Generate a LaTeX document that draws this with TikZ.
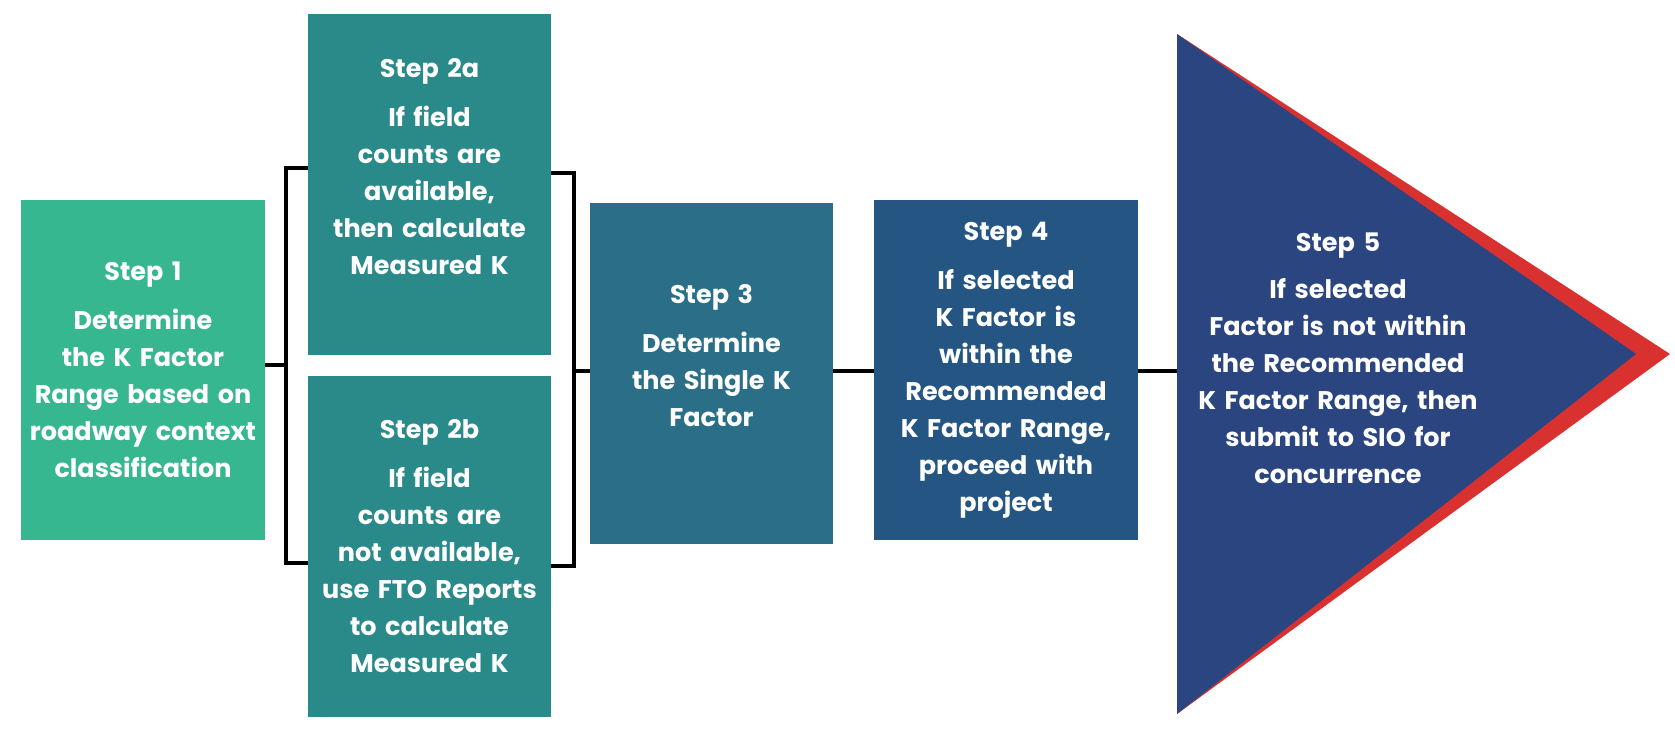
\documentclass[tikz,border=0pt]{standalone}
\usepackage{fontspec}
\setmainfont{Poppins}
\usetikzlibrary{calc}
\definecolor{stepone}{HTML}{37B78F}
\definecolor{steptwo}{HTML}{2A8A8A}
\definecolor{stepthree}{HTML}{2A6F87}
\definecolor{stepfour}{HTML}{245583}
\definecolor{stepfive}{HTML}{2B4580}
\definecolor{stepred}{HTML}{D93030}
\newcommand\stepfont{\fontsize{25.5}{37}\selectfont\bfseries}
\tikzstyle{stepbox}=[rectangle, inner sep=0pt, text=white, align=center, font=\stepfont]
\tikzstyle{line}=[draw, line width=3.5pt]

\begin{document}
\begin{tikzpicture}[x=1pt, y=-1pt]
		\useasboundingbox (0,0) rectangle (1675,731);
		
		% Step boxes
		\node[stepbox, fill=stepone, minimum width=244pt, minimum height=340pt, text width=240pt] (s1) at (143,370) {Step 1\\[12pt]Determine\\the K Factor\\Range based on\\roadway context\\classification};
		\node[stepbox, fill=steptwo, minimum width=243pt, minimum height=341pt, text width=239pt] (s2a) at (429.5,184.5) {Step 2a\\[12pt]If field\\counts are\\available,\\then calculate\\Measured K\\[0pt]\mbox{}};
		\node[stepbox, fill=steptwo, minimum width=243pt, minimum height=341pt, text width=239pt] (s2b) at (429.5,546.5) {Step 2b\\[12pt]If field\\counts are\\not available,\\use FTO Reports\\to calculate\\Measured K};
		\node[stepbox, fill=stepthree, minimum width=243pt, minimum height=341pt, text width=239pt] (s3) at (711.5,373.5) {Step 3\\[12pt]Determine\\the Single K\\Factor\\[0pt]\mbox{}};
		\node[stepbox, fill=stepfour, minimum width=264pt, minimum height=340pt, text width=260pt] (s4) at (1006,370) {Step 4\\[12pt]If selected\\K Factor is\\within the\\Recommended\\K Factor Range,\\proceed with\\project};
		
		% Step 5 arrow head
		\fill[stepred] (1177,34) -- (1670,354) -- (1177,714) -- cycle;
		\fill[stepfive] (1177,34) -- (1636,354) -- (1177,714) -- cycle;
		\node[stepbox, text width=330pt] (t5) at (1338,358) {Step 5\\[10pt]If selected\\Factor is not within\\the Recommended\\K Factor Range, then\\submit to SIO for\\concurrence};
		
		% Connectors
		\coordinate (bl) at (286,365);
		\coordinate (b1) at (286,168);
		\coordinate (b2) at (286,563);
		\coordinate (br) at (574,371);
		\coordinate (b3) at (574,173);
		\coordinate (b4) at (574,566);
		\coordinate (tri) at (1177,371);
		\draw[line] (s1.east |- bl) -- (bl);
		\draw[line] (s2a.west |- b1) -- (b1) -- (b2) -- (s2b.west |- b2);
		\draw[line] (s2a.east |- b3) -- (b3) -- (b4) -- (s2b.east |- b4);
		\draw[line] (br) -- (s3.west |- br);
		\draw[line] (s3.east |- br) -- (s4.west |- br);
		\draw[line] (s4.east |- tri) -- (tri);
	\end{tikzpicture}
\end{document}
